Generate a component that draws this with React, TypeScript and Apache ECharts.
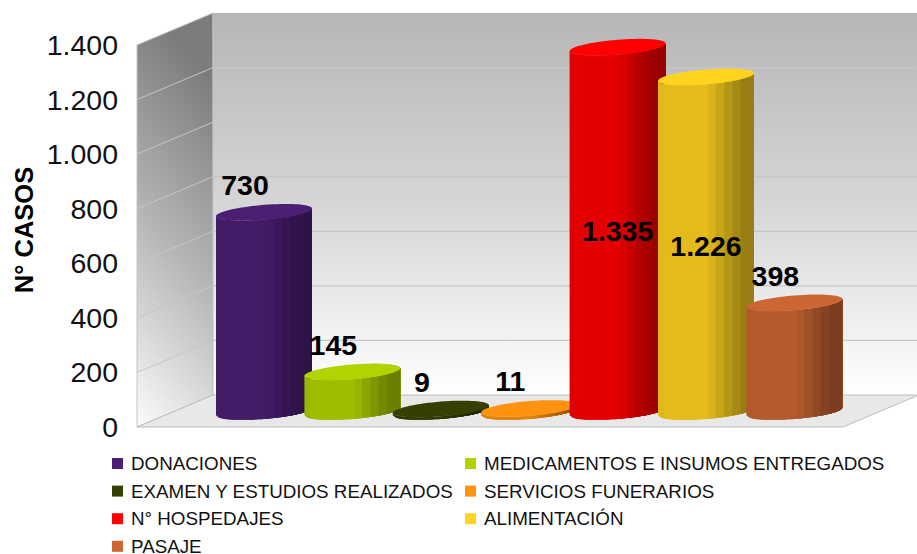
import React, { useEffect, useRef } from "react";
import * as echarts from "echarts";

const categories = [
  "DONACIONES",
  "MEDICAMENTOS E INSUMOS ENTREGADOS",
  "EXAMEN Y ESTUDIOS REALIZADOS",
  "SERVICIOS FUNERARIOS",
  "N° HOSPEDAJES",
  "ALIMENTACIÓN",
  "PASAJE",
];
const values = [730, 145, 9, 11, 1335, 1226, 398];
const colors = ["#4b1f74", "#b0d400", "#334000", "#ff9310", "#ff0000", "#ffd320", "#cc6633"];
const ticks = [0, 200, 400, 600, 800, 1000, 1200, 1400];
const legendLeft = [categories[0], categories[2], categories[4], categories[6]];
const legendRight = [categories[1], categories[3], categories[5]];

const FONT = '"Liberation Sans", Arial, sans-serif';
const DEPTH_X = 76;
const DEPTH_Y = -32;
const bands: [number, number][] = [
  [-1, 0.87],
  [-0.88, 0.89],
  [0.05, 0.85],
  [0.2, 0.78],
  [0.38, 0.71],
  [0.55, 0.65],
  [0.72, 0.6],
];

const dots = (v: number) => String(v).replace(/\B(?=(\d{3})+$)/g, ".");

function shade(hex: string, f: number) {
  const n = parseInt(hex.slice(1), 16);
  const r = Math.round(((n >> 16) & 255) * f);
  const g = Math.round(((n >> 8) & 255) * f);
  const b = Math.round((n & 255) * f);
  return `rgb(${r},${g},${b})`;
}

function renderWalls(_p: any, api: any) {
  const o = api.coord([0, 0]);
  const t = api.coord([0, 1400]);
  const e = api.coord([1, 0]);
  const farRight = e[0] + DEPTH_X;
  const side = new echarts.graphic.LinearGradient(0.2, 0, 0, 1, [
    { offset: 0, color: "#7c7c7c" },
    { offset: 0.5, color: "#b6b6b6" },
    { offset: 1, color: "#fbfbfb" },
  ]);
  const back = new echarts.graphic.LinearGradient(0, 0, 0, 1, [
    { offset: 0, color: "#b6b6b6" },
    { offset: 0.5, color: "#d6d6d6" },
    { offset: 1, color: "#ffffff" },
  ]);
  return {
    type: "group",
    children: [
      {
        type: "polygon",
        shape: {
          points: [
            [t[0], t[1]],
            [t[0] + DEPTH_X, t[1] + DEPTH_Y],
            [o[0] + DEPTH_X, o[1] + DEPTH_Y],
            [o[0], o[1]],
          ],
        },
        style: { fill: side, stroke: "#c4c4c4", lineWidth: 1 },
      },
      {
        type: "polygon",
        shape: {
          points: [
            [t[0] + DEPTH_X, t[1] + DEPTH_Y],
            [farRight, t[1] + DEPTH_Y],
            [farRight, o[1] + DEPTH_Y],
            [o[0] + DEPTH_X, o[1] + DEPTH_Y],
          ],
        },
        style: { fill: back },
      },
      {
        type: "polygon",
        shape: {
          points: [
            [o[0], o[1]],
            [e[0], e[1]],
            [farRight, e[1] + DEPTH_Y],
            [o[0] + DEPTH_X, o[1] + DEPTH_Y],
          ],
        },
        style: { fill: "#e8e8e8", stroke: "#bdbdbd", lineWidth: 1 },
      },
      {
        type: "line",
        shape: { x1: t[0] + DEPTH_X, y1: t[1] + DEPTH_Y, x2: o[0] + DEPTH_X, y2: o[1] + DEPTH_Y },
        style: { stroke: "#bebebe", lineWidth: 1 },
      },
    ],
  };
}

function renderGridLine(_p: any, api: any) {
  const v = api.value(1);
  const a = api.coord([0, v]);
  const b = api.coord([1, v]);
  const stroke = "#c6c6c6";
  return {
    type: "group",
    children: [
      {
        type: "line",
        shape: { x1: a[0], y1: a[1], x2: a[0] + DEPTH_X, y2: a[1] + DEPTH_Y },
        style: { stroke, lineWidth: 1 },
      },
      {
        type: "line",
        shape: { x1: a[0] + DEPTH_X, y1: a[1] + DEPTH_Y, x2: b[0] + DEPTH_X, y2: b[1] + DEPTH_Y },
        style: { stroke, lineWidth: 1.2 },
      },
    ],
  };
}

function renderCylinder(idx: number) {
  return (_p: any, api: any) => {
    const value = api.value(1);
    const base = api.coord([api.value(0), 0]);
    const top = api.coord([api.value(0), value]);
    const a = api.size([1, 0])[0] * 0.543;
    const b = a * 0.155;
    const s = a * 0.08;
    const cx = base[0];
    const color = colors[idx];
    const front = (u: number, cy: number) => [cx + a * u, cy + b * Math.sqrt(Math.max(0, 1 - u * u)) - s * u];
    // Each band runs to the right edge and is painted over by the next, so no seams show.
    const children: any[] = bands.map(([u0, f]) => {
      const us: number[] = [];
      for (let i = 0; i <= 32; i++) us.push(u0 + ((1 - u0) * i) / 32);
      const points = [...us.map((u) => front(u, top[1])), ...us.slice().reverse().map((u) => front(u, base[1]))];
      return { type: "polygon", shape: { points }, style: { fill: shade(color, f) } };
    });
    const cap: number[][] = [];
    for (let i = 0; i < 72; i++) {
      const t = (i / 72) * Math.PI * 2;
      cap.push([cx + a * Math.cos(t), top[1] - b * Math.sin(t) - s * Math.cos(t)]);
    }
    children.push({ type: "polygon", shape: { points: cap }, style: { fill: color } });
    const inside = value > 1000;
    children.push({
      type: "text",
      x: inside ? cx : cx - 19,
      y: inside ? (base[1] + top[1]) / 2 + 2 : top[1] - 27,
      style: {
        text: dots(value),
        fill: "#000",
        font: `bold 28.5px ${FONT}`,
        textAlign: "center",
        textVerticalAlign: "middle",
      },
    });
    return { type: "group", children };
  };
}

const legendBase = {
  orient: "vertical",
  icon: "rect",
  padding: 0,
  height: 130,
  itemWidth: 11,
  itemHeight: 11,
  itemGap: 8.6,
  textStyle: { fontFamily: FONT, fontSize: 18.8, color: "#111", padding: [0, 0, 0, 3] },
};

export default function App() {
  const ref = useRef<HTMLDivElement>(null);
  useEffect(() => {
    const chart = echarts.init(ref.current!, undefined, { renderer: "svg" });
    chart.setOption({
      animation: false,
      backgroundColor: "#fff",
      color: colors,
      grid: [
        { left: 137, top: 45, width: 706, height: 382 },
        { left: 219.8, top: 29.5, width: 618.8, height: 382 },
      ],
      xAxis: [
        { gridIndex: 0, type: "value", min: 0, max: 1, show: false },
        { gridIndex: 1, type: "category", data: categories, show: false },
      ],
      yAxis: [
        {
          gridIndex: 0,
          type: "value",
          min: 0,
          max: 1400,
          interval: 200,
          axisLine: { show: false },
          axisTick: { show: false },
          splitLine: { show: false },
          axisLabel: {
            margin: 19,
            fontFamily: FONT,
            fontSize: 28.5,
            color: "#111",
            padding: [4, 0, 0, 0],
            formatter: (v: number) => dots(v),
          },
        },
        { gridIndex: 1, type: "value", min: 0, max: 1400, interval: 200, show: false },
      ],
      legend: [
        { ...legendBase, left: 112, top: 454, data: legendLeft },
        { ...legendBase, left: 465, top: 454, data: legendRight },
      ],
      graphic: [
        {
          type: "text",
          x: 24,
          y: 230,
          rotation: Math.PI / 2,
          style: {
            text: "N° CASOS",
            fill: "#000",
            font: `bold 25.5px ${FONT}`,
            textAlign: "center",
            textVerticalAlign: "middle",
          },
        },
      ],
      series: [
        {
          type: "custom",
          xAxisIndex: 0,
          yAxisIndex: 0,
          clip: false,
          silent: true,
          z: 1,
          renderItem: renderWalls,
          data: [[0, 0]],
        },
        {
          type: "custom",
          xAxisIndex: 0,
          yAxisIndex: 0,
          clip: false,
          silent: true,
          z: 2,
          renderItem: renderGridLine,
          data: ticks.slice(1, -1).map((t) => [0, t]),
        },
        ...categories.map((name, i) => ({
          type: "custom",
          name,
          xAxisIndex: 1,
          yAxisIndex: 1,
          clip: false,
          z: 3 + i,
          itemStyle: { color: colors[i] },
          renderItem: renderCylinder(i),
          data: [[name, values[i]]],
        })),
      ],
    });
    return () => chart.dispose();
  }, []);
  return <div ref={ref} style={{ position: "absolute", left: 0, top: 0, width: 917, height: 554 }} />;
}
